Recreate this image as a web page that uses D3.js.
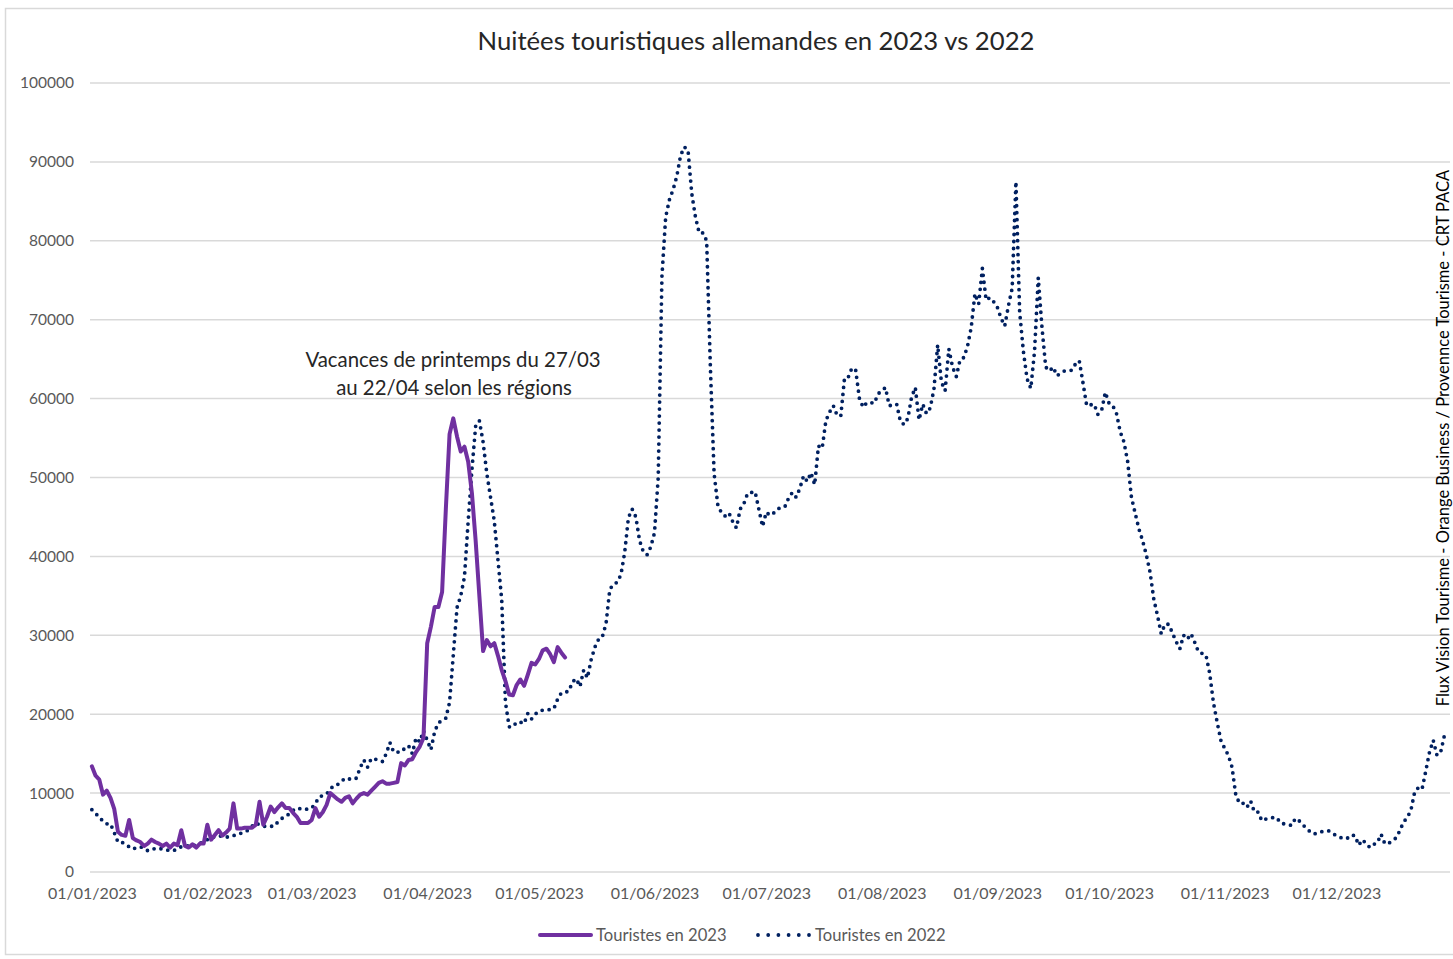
<!DOCTYPE html>
<html>
<head>
<meta charset="utf-8">
<script src="https://cdn.jsdelivr.net/npm/d3@7"></script>
<style>
  body { margin: 0; background: #fff; }
  text { font-family: Lato, "Open Sans", sans-serif; }
</style>
</head>
<body>
<div id="chart"></div>
<script>
(function(d3) {
  'use strict';

  // daily values, first value = 1 January
  var values2023 = [
    13400, 12200, 11700, 9800, 10300, 9400, 8000, 5100, 4700, 4600,
    6600, 4300, 4000, 3800, 3300, 3600, 4100, 3800, 3600, 3300,
    3600, 3100, 3600, 3400, 5300, 3300, 3100, 3500, 3100, 3600,
    3600, 6000, 4100, 4700, 5300, 4600, 5000, 5500, 8700, 5500,
    5500, 5600, 5600, 5600, 6000, 8900, 6000, 7000, 8300, 7600,
    8200, 8700, 8100, 8100, 7500, 7000, 6200, 6200, 6200, 6600,
    8100, 7000, 7600, 8500, 10000, 9600, 9200, 8900, 9400, 9600,
    8700, 9300, 9800, 10000, 9800, 10300, 10800, 11300, 11500, 11200,
    11200, 11300, 11400, 13800, 13500, 14200, 14300, 15200, 15900, 17000,
    29000, 31100, 33600, 33600, 35500, 46000, 55500, 57500, 55200, 53300,
    53900, 52000, 48000, 42000, 35000, 28000, 29400, 28600, 29000, 27400,
    25600, 24200, 22500, 22400, 23700, 24400, 23600, 25000, 26500, 26300,
    27000, 28100, 28300, 27600, 26600, 28500, 27800, 27200
  ];

  var values2022 = [
    7900, 7400, 7000, 6400, 6100, 6100, 5000, 3800, 3800, 3500,
    3200, 2900, 3100, 3200, 3000, 2700, 2800, 3000, 3000, 2900,
    2800, 2700, 2700, 3000, 3200, 3300, 3300, 3300, 3400, 3600,
    3900, 4100, 4300, 4500, 4600, 4500, 4400, 4500, 4600, 4800,
    4900, 5100, 5300, 5800, 6200, 6000, 5800, 5800, 5800, 5800,
    6400, 6800, 7000, 7400, 7800, 8100, 8000, 7900, 8000, 8100,
    8700, 9500, 9700, 9900, 10500, 11000, 11100, 11500, 11900, 11800,
    11700, 11900, 13200, 14200, 13300, 14400, 14300, 14200, 14000, 15000,
    16400, 15200, 15200, 15200, 15700, 16000, 15000, 17000, 16500, 17900,
    16700, 15500, 17800, 18900, 19200, 19500, 21500, 27500, 33500, 35000,
    37400, 44500, 51000, 56500, 57200, 54500, 50500, 47500, 44500, 39500,
    34500, 21500, 18400, 18400, 19000, 19000, 18800, 20100, 19400, 20000,
    20400, 20500, 20500, 20600, 20700, 21900, 22700, 22800, 22900, 24100,
    24500, 23500, 25600, 24600, 26900, 28500, 29500, 29800, 31500, 35800,
    36500, 36700, 37700, 40500, 44900, 46000, 45000, 42000, 40600, 40200,
    41200, 43000, 50000, 75500, 83000, 85200, 86500, 88200, 90800, 91900,
    91500, 86000, 83000, 81000, 81000, 80000, 64000, 50500, 46500, 45500,
    45100, 45500, 44400, 43600, 46000, 46700, 48000, 48100, 48200, 46000,
    43800, 45600, 45200, 45500, 46000, 46200, 46300, 47400, 48100, 47500,
    48600, 50200, 49500, 50600, 49100, 54000, 53700, 57200, 58300, 59100,
    57900, 57800, 62600, 62700, 63900, 63600, 60000, 58900, 59500, 59500,
    59400, 60600, 61000, 61400, 59100, 59200, 59300, 57100, 56700, 57500,
    60200, 61400, 57300, 59300, 58100, 58800, 61200, 66800, 62100, 61000,
    66300, 64000, 62800, 64900, 65200, 66600, 69000, 73300, 72000, 76500,
    72500, 72800, 72300, 71600, 70200, 69200, 71800, 74000, 87500, 71000,
    66000, 62500, 61300, 66000, 75300, 69000, 64000, 63500, 64000, 62900,
    63200, 63500, 63500, 63600, 64400, 64800, 62000, 59100, 59200, 59300,
    58000, 58500, 60800, 59400, 59100, 58100, 55800, 54500, 52000, 47500,
    45500, 43500, 42000, 40200, 38000, 34600, 32500, 30200, 31400, 31400,
    30300, 29200, 28300, 30000, 29500, 30200, 29100, 27900, 27700, 27500,
    25200, 21500, 19000, 16700, 15700, 14800, 13300, 9800, 8700, 8700,
    8200, 9000, 7600, 7600, 6500, 6700, 6800, 6900, 6900, 6200,
    6100, 6000, 5900, 6800, 6500, 6000, 5500, 5100, 4800, 5000,
    5100, 5200, 5200, 4900, 4600, 4400, 4200, 4300, 4700, 4600,
    3400, 4100, 3600, 3100, 3500, 3700, 4800, 3600, 3600, 4000,
    4300, 5200, 6300, 6900, 7800, 10100, 10700, 10500, 12800, 15200,
    16700, 14800, 15200, 17300
  ];

  var yTicks = [0, 10000, 20000, 30000, 40000, 50000, 60000, 70000, 80000, 90000, 100000];
  var monthLabels = ['01/01/2023', '01/02/2023', '01/03/2023', '01/04/2023', '01/05/2023', '01/06/2023',
                     '01/07/2023', '01/08/2023', '01/09/2023', '01/10/2023', '01/11/2023', '01/12/2023'];

  var seriesNames = ['Touristes en 2023', 'Touristes en 2022'];

  var width = 1453;
  var height = 959;
  var plotLeft = 90, plotRight = 1450, plotTop = 83, plotBottom = 872;
  var purple = '#7030a0';
  var navy = '#002060';
  var halfDay = 12 * 3600 * 1000;

  var start = new Date(2023, 0, 1);
  var parseLabel = d3.timeParse('%d/%m/%Y');

  function toPoints(values) {
    return values.map(function(v, i) {
      return { date: d3.timeDay.offset(start, i), value: v };
    });
  }
  var data2023 = toPoints(values2023);
  var data2022 = toPoints(values2022);

  var svg = d3.select('#chart')
    .append('svg')
    .attr('width', width)
    .attr('height', height);

  // chart border
  svg.append('rect')
    .attr('x', 5.5).attr('y', 8.5)
    .attr('width', 1460).attr('height', 946)
    .attr('fill', '#fff')
    .attr('stroke', '#d9d9d9')
    .attr('stroke-width', 1.5);

  var x = d3.scaleTime()
    .domain([start, new Date(2024, 0, 1)])
    .range([plotLeft, plotRight]);

  var y = d3.scaleLinear()
    .domain([0, 100000])
    .range([plotBottom, plotTop]);

  function xMid(d) { return x(new Date(d.getTime() + halfDay)); }

  // gridlines
  svg.append('g')
    .selectAll('line')
    .data(yTicks)
    .enter()
    .append('line')
    .attr('x1', plotLeft).attr('x2', plotRight)
    .attr('y1', function(d) { return y(d); })
    .attr('y2', function(d) { return y(d); })
    .attr('stroke', '#d9d9d9')
    .attr('stroke-width', 1.5);

  var yAxis = svg.append('g')
    .attr('transform', 'translate(' + plotLeft + ',0)')
    .call(d3.axisLeft(y).tickValues(yTicks).tickFormat(d3.format('d')).tickSize(0).tickPadding(16));
  yAxis.select('.domain').remove();
  yAxis.selectAll('text')
    .style('font-family', 'Lato, sans-serif')
    .style('font-size', '15.5px')
    .attr('fill', '#595959');

  var monthDates = monthLabels.map(function(s) { return new Date(parseLabel(s).getTime() + halfDay); });
  var xAxis = svg.append('g')
    .attr('transform', 'translate(0,' + plotBottom + ')')
    .call(d3.axisBottom(x).tickValues(monthDates)
      .tickFormat(function(d, i) { return monthLabels[i]; })
      .tickSize(0).tickPadding(16));
  xAxis.select('.domain').remove();
  xAxis.selectAll('text')
    .style('font-family', 'Lato, sans-serif')
    .style('font-size', '16px')
    .attr('fill', '#595959');

  var line = d3.line()
    .x(function(d) { return xMid(d.date); })
    .y(function(d) { return y(d.value); });

  // 2022 dotted
  svg.append('path')
    .datum(data2022)
    .attr('d', line)
    .attr('fill', 'none')
    .attr('stroke', navy)
    .attr('stroke-width', 3.8)
    .attr('stroke-linecap', 'round')
    .attr('stroke-dasharray', '0 7');

  // 2023 solid
  svg.append('path')
    .datum(data2023)
    .attr('d', line)
    .attr('fill', 'none')
    .attr('stroke', purple)
    .attr('stroke-width', 4)
    .attr('stroke-linejoin', 'round')
    .attr('stroke-linecap', 'round');

  // title
  svg.append('text')
    .attr('x', 756).attr('y', 50)
    .attr('text-anchor', 'middle')
    .style('font-size', '25.7px')
    .attr('fill', '#262626')
    .text('Nuitées touristiques allemandes en 2023 vs 2022');

  // annotation
  var note = svg.append('text')
    .attr('text-anchor', 'middle')
    .style('font-size', '20.4px')
    .attr('fill', '#262626');
  note.append('tspan').attr('x', 453).attr('y', 367).text('Vacances de printemps du 27/03');
  note.append('tspan').attr('x', 454).attr('y', 395).text('au 22/04 selon les régions');

  // source
  svg.append('text')
    .attr('transform', 'translate(1449,438) rotate(-90)')
    .attr('text-anchor', 'middle')
    .style('font-size', '16.5px')
    .attr('fill', '#000')
    .text('Flux Vision Tourisme - Orange Business / Provennce Tourisme - CRT PACA');

  // legend
  var legend = svg.append('g');
  legend.append('line')
    .attr('x1', 540).attr('x2', 591).attr('y1', 935).attr('y2', 935)
    .attr('stroke', purple).attr('stroke-width', 4).attr('stroke-linecap', 'round');
  legend.append('text')
    .attr('x', 596).attr('y', 940.5)
    .style('font-size', '16.6px').attr('fill', '#595959')
    .text(seriesNames[0]);
  legend.append('line')
    .attr('x1', 758).attr('x2', 810).attr('y1', 935).attr('y2', 935)
    .attr('stroke', navy).attr('stroke-width', 3.8)
    .attr('stroke-linecap', 'round').attr('stroke-dasharray', '0 10.2');
  legend.append('text')
    .attr('x', 815).attr('y', 940.5)
    .style('font-size', '16.6px').attr('fill', '#595959')
    .text(seriesNames[1]);

})(window.d3);
</script>
</body>
</html>
